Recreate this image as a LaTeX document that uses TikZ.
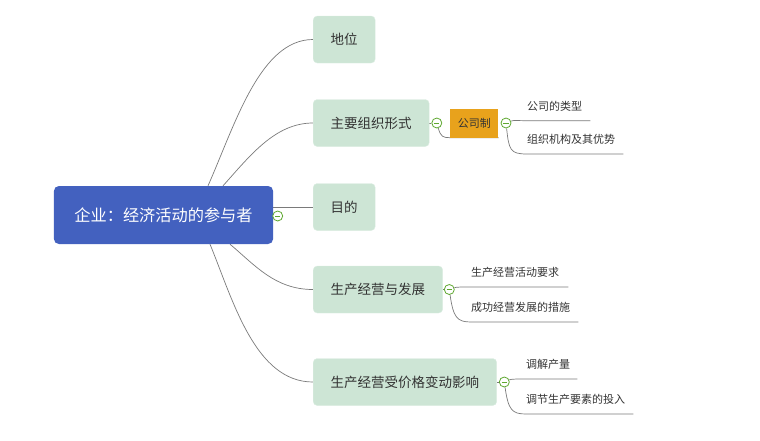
\documentclass[tikz,border=0pt]{standalone}
\usepackage{fontspec}
\setmainfont{Noto Sans CJK SC}
\usetikzlibrary{calc, positioning, backgrounds}
\definecolor{rootblue}{HTML}{4361BF}
\definecolor{topicgreen}{HTML}{CDE5D5}
\definecolor{suborange}{HTML}{E8A21C}
\definecolor{foldgreen}{HTML}{5FA830}
\definecolor{linkgray}{HTML}{7A7A7A}
\definecolor{inkgray}{HTML}{333333}

\begin{document}
\begin{tikzpicture}[x=1pt, y=-1pt,
    hub/.style={fill=rootblue, rounded corners=5pt, text=white, inner xsep=20.5pt,
                minimum height=58pt, font=\fontsize{16.2}{19}\selectfont},
    topic/.style={anchor=west, fill=topicgreen, draw=topicgreen!70!white, rounded corners=4pt,
                  minimum height=47pt, inner xsep=17.5pt, text=inkgray,
                  font=\fontsize{13.5}{16}\selectfont},
    sub/.style={fill=suborange, minimum height=29pt, inner xsep=7.5pt, text=inkgray,
                font=\fontsize{11}{13}\selectfont},
    leaf/.style={anchor=south west, inner xsep=0pt, inner ysep=8pt, text depth=2pt,
                 text height=8pt, align=left, text=inkgray, font=\fontsize{11}{13}\selectfont},
    fold/.style={circle, draw=foldgreen, fill=white, line width=0.8pt, minimum size=10pt,
                 inner sep=0pt, path picture={\draw[foldgreen, line width=0.8pt]
                 ([xshift=-2.6pt]path picture bounding box.center) --
                 ([xshift=2.6pt]path picture bounding box.center);}},
    link/.style={draw=linkgray, line width=0.7pt}
]
\useasboundingbox (0,0) rectangle (760,440);

\node[hub] (root) at (163.5,215) {企业：经济活动的参与者};
\node[fold, right=-1pt of root, yshift=-1pt] (f0) {};

\node[topic] (pos)  at (313,39.5)  {地位};
\node[topic] (main) at (313,123)   {主要组织形式};
\node[topic] (aim)  at (313,207)   {目的};
\node[topic] (prod) at (313,289.5) {生产经营与发展};
\node[topic] (pric) at (313,382)   {生产经营受价格变动影响};

\node[fold, right=2pt of main] (f2) {};
\node[sub, right=8pt of f2] (gsz) {公司制};
\node[fold, right=2pt of gsz] (f2a) {};
\node[fold, right=1pt of prod] (f4) {};
\node[fold, right=2pt of pric] (f5) {};

\node[leaf, text width=63pt]  (l1) at (527,120.7) {公司的类型};
\node[leaf, text width=96pt]  (l2) at (527,154)   {组织机构及其优势};
\node[leaf, text width=97pt]  (l3) at (471,287)   {生产经营活动要求};
\node[leaf, text width=107pt] (l4) at (471,322)   {成功经营发展的措施};
\node[leaf, text width=51pt]  (l5) at (526,379)   {调解产量};
\node[leaf, text width=107pt] (l6) at (526,414)   {调节生产要素的投入};

\begin{scope}[on background layer]
\draw[link] ($(root.north)+(44.5,0)$) .. controls +(27,-61) and +(-53,0) .. (pos.west);
\draw[link] ($(root.north)+(59.5,0)$) .. controls +(27,-30) and +(-38,0) .. (main.west);
\draw[link] ($(root.east)+(0,-8)$) -- (aim.west);
\draw[link] ($(root.south)+(66.5,0)$) .. controls +(25,21) and +(-38,0) .. (prod.west);
\draw[link] ($(root.south)+(46.5,0)$) .. controls +(23,56) and +(-58,0) .. (pric.west);

\draw[link] (main.east) -- (f2);
\draw[link] (f2) .. controls +(4,14) and +(-7,0) .. (gsz.south west) -- (gsz.south east);
\draw[link] (f2a) .. controls +(8,-3) and +(-10,0) .. (l1.south west) -- (l1.south east);
\draw[link] (f2a) .. controls +(3,27) and +(-17,0) .. (l2.south west) -- (l2.south east);

\draw[link] (prod.east) -- (f4);
\draw[link] (f4) .. controls +(7,-2.5) and +(-10,0) .. (l3.south west) -- (l3.south east);
\draw[link] (f4) .. controls +(4,28) and +(-14,0) .. (l4.south west) -- (l4.south east);

\draw[link] (pric.east) -- (f5);
\draw[link] (f5) .. controls +(7,-3) and +(-10,0) .. (l5.south west) -- (l5.south east);
\draw[link] (f5) .. controls +(4,28) and +(-14,0) .. (l6.south west) -- (l6.south east);
\end{scope}
\end{tikzpicture}
\end{document}
